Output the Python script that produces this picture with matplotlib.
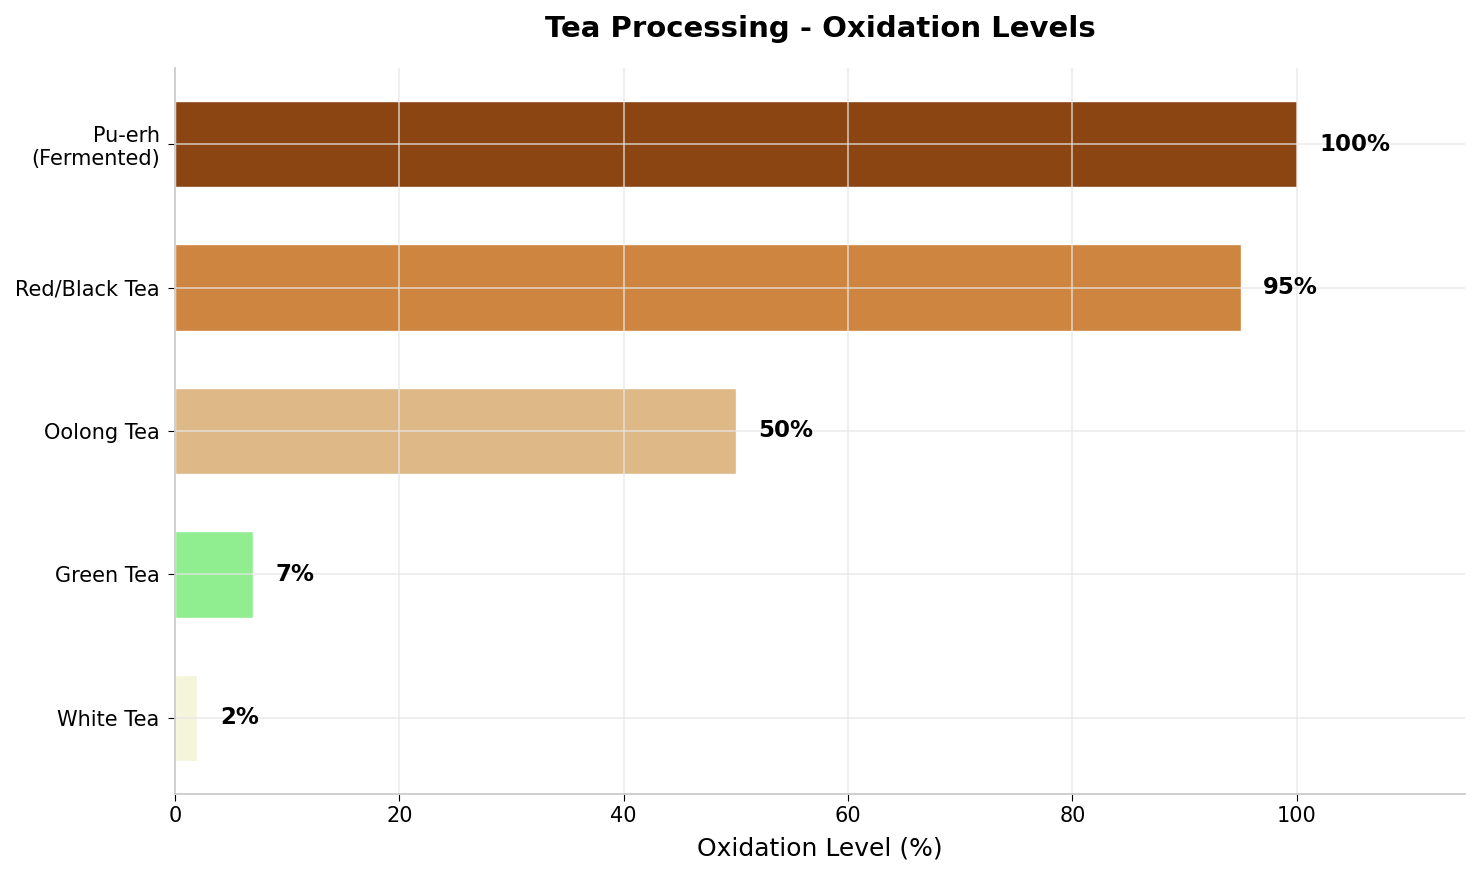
import matplotlib.pyplot as plt

teas = ["White Tea", "Green Tea", "Oolong Tea", "Red/Black Tea", "Pu-erh\n(Fermented)"]
oxidation = [2, 7, 50, 95, 100]
colors = ["#F5F5DC", "#90EE90", "#DEB887", "#CD853F", "#8B4513"]

fig, ax = plt.subplots(figsize=(14.8, 8.76), dpi=100)
fig.subplots_adjust(left=0.1182, right=0.9899, top=0.9224, bottom=0.0936)

bars = ax.barh(teas, oxidation, height=0.6, color=colors, edgecolor="white", linewidth=1)

for bar, val in zip(bars, oxidation):
    ax.text(val + 2, bar.get_y() + bar.get_height() / 2, f"{val}%",
            va="center", ha="left", fontsize=16.5, fontweight="bold")

ax.set_xlim(0, 115)
ax.set_title("Tea Processing - Oxidation Levels", fontsize=21, fontweight="bold", pad=22)
ax.set_xlabel("Oxidation Level (%)", fontsize=18, labelpad=8)
ax.tick_params(axis="both", labelsize=15, length=5)
ax.tick_params(axis="y", pad=6)
ax.grid(True, color="#e6e6e6", alpha=0.7, linewidth=1.3)

ax.spines["top"].set_visible(False)
ax.spines["right"].set_visible(False)
ax.spines["left"].set_color("#cccccc")
ax.spines["bottom"].set_color("#cccccc")
ax.spines["left"].set_linewidth(1.3)
ax.spines["bottom"].set_linewidth(1.3)

plt.savefig("out.png")
plt.close()
